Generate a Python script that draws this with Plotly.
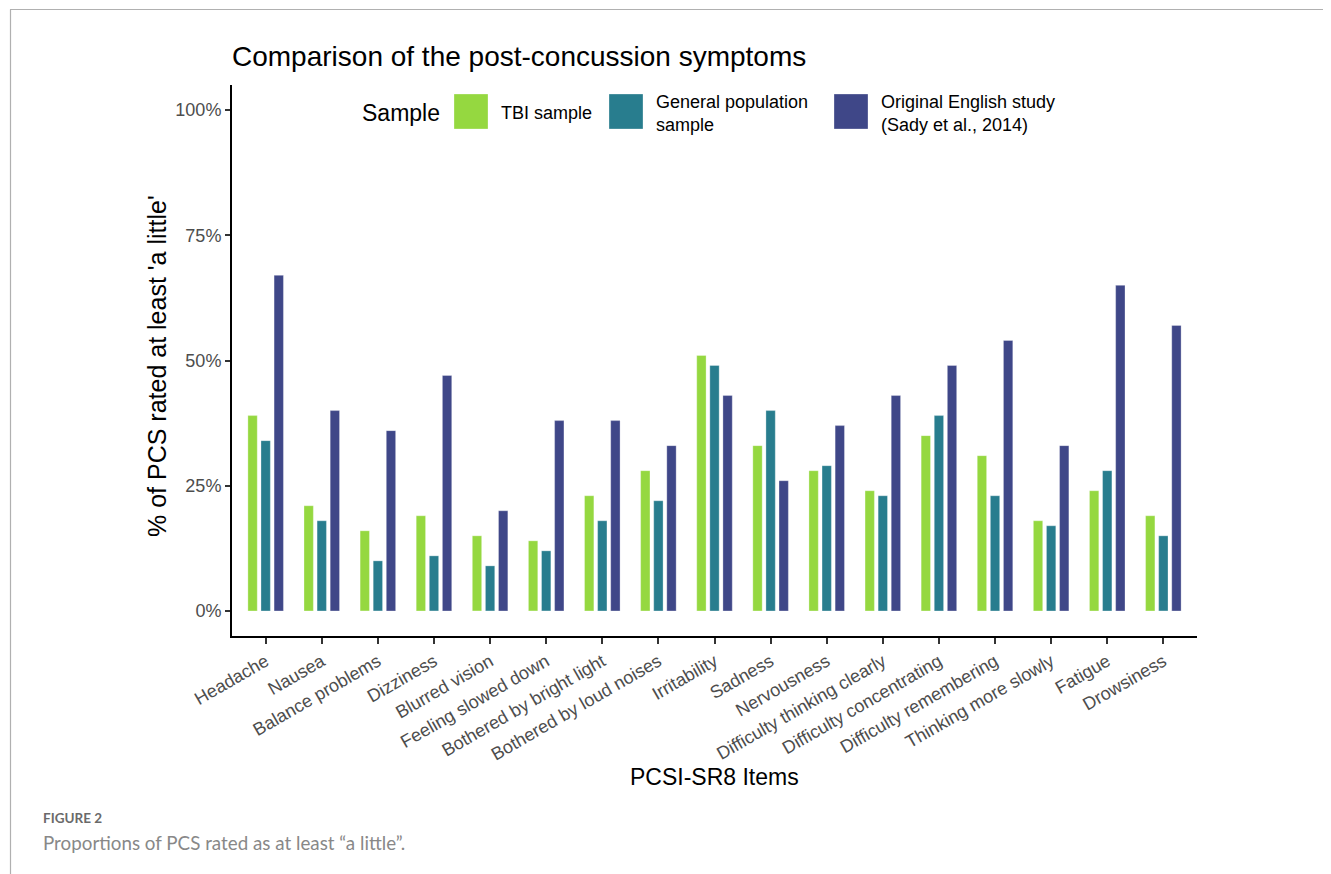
import plotly.graph_objects as go

categories = ["Headache", "Nausea", "Balance problems", "Dizziness", "Blurred vision",
              "Feeling slowed down", "Bothered by bright light", "Bothered by loud noises",
              "Irritability", "Sadness", "Nervousness", "Difficulty thinking clearly",
              "Difficulty concentrating", "Difficulty remembering", "Thinking more slowly",
              "Fatigue", "Drowsiness"]
tbi = [39, 21, 16, 19, 15, 14, 23, 28, 51, 33, 28, 24, 35, 31, 18, 24, 19]
genpop = [34, 18, 10, 11, 9, 12, 18, 22, 49, 40, 29, 23, 39, 23, 17, 28, 15]
english = [67, 40, 36, 47, 20, 38, 38, 33, 43, 26, 37, 43, 49, 54, 33, 65, 57]
series_names = ["TBI sample", "General population<br>sample", "Original English study<br>(Sady et al., 2014)"]
colors = ["#95D840", "#287D8E", "#3F4788"]
y_ticks = [0, 25, 50, 75, 100]
y_tick_labels = ["0%", "25%", "50%", "75%", "100%"]

# page is rendered with an 8px body margin: work in page pixel coords and shift
OFF = 8
PW, PH = 1331, 874
W, H = PW - OFF, PH - OFF
L, R, T, B = 232, 1197, 85, 636   # page coords of plot area
pw, ph = R - L, B - T

def px(x):
    return (x - L) / pw

def py(y):
    return (B - y) / ph

fig = go.Figure()
for name, vals, col in zip(series_names, [tbi, genpop, english], colors):
    fig.add_trace(go.Bar(x=categories, y=vals, name=name, marker_color=col,
                         marker_line_color="rgba(255,255,255,0.5)", marker_line_width=0.6,
                         showlegend=False))

font_main = "Liberation Sans, Arial, sans-serif"
fig.update_layout(
    width=W, height=H,
    margin=dict(l=L - OFF, r=(PW - R), t=T - OFF, b=(PH - B), autoexpand=False),
    paper_bgcolor="white", plot_bgcolor="white",
    barmode="group", bargap=0.3, bargroupgap=0.286,
    font=dict(family=font_main, color="#000"),
    xaxis=dict(range=[-0.6, 16.6], showline=True, linecolor="black", linewidth=2,
               ticks="outside", ticklen=6, tickwidth=1.5, tickcolor="#333",
               tickangle=-30, tickfont=dict(size=18, color="#4d4d4d", family=font_main),
               showgrid=False, zeroline=False),
    yaxis=dict(range=[-5, 105], showline=True, linecolor="black", linewidth=2,
               ticks="outside", ticklen=5, tickwidth=1.5, tickcolor="#333",
               tickvals=y_ticks, ticktext=y_tick_labels,
               tickfont=dict(size=18, color="#4d4d4d", family=font_main),
               showgrid=False, zeroline=False),
)

ann = []
shapes = []
# title
ann.append(dict(x=px(230), y=py(57), xref="paper", yref="paper", xanchor="left", yanchor="middle",
                text="Comparison of the post-concussion symptoms", showarrow=False,
                font=dict(size=28, color="#000", family=font_main)))
# axis titles
ann.append(dict(x=px(714), y=py(777), xref="paper", yref="paper", xanchor="center", yanchor="middle",
                text="PCSI-SR8 Items", showarrow=False, font=dict(size=23, color="#000", family=font_main)))
ann.append(dict(x=px(157), y=py(366), xref="paper", yref="paper", xanchor="center", yanchor="middle",
                text="% of PCS rated at least 'a little'", showarrow=False, textangle=-90,
                font=dict(size=25, color="#000", family=font_main)))
# legend (manual)
ann.append(dict(x=px(360), y=py(113), xref="paper", yref="paper", xanchor="left", yanchor="middle",
                text="Sample", showarrow=False, font=dict(size=23, color="#000", family=font_main)))
key_x = [454, 609, 834]
text_x = [499, 654, 879]
for kx, tx, col, name in zip(key_x, text_x, colors, series_names):
    shapes.append(dict(type="rect", xref="paper", yref="paper", x0=px(kx), x1=px(kx + 34),
                       y0=py(129), y1=py(94), fillcolor=col, line=dict(width=0.6, color="rgba(255,255,255,0.5)")))
    ann.append(dict(x=px(tx), y=py(113), xref="paper", yref="paper", xanchor="left", yanchor="middle",
                    text=name, showarrow=False, align="left",
                    font=dict(size=18, color="#000", family=font_main)))
# frame lines
shapes.append(dict(type="line", xref="paper", yref="paper", x0=px(10), x1=px(1340), y0=py(9.5), y1=py(9.5),
                   line=dict(color="#b0b0b0", width=1.2)))
shapes.append(dict(type="line", xref="paper", yref="paper", x0=px(10.5), x1=px(10.5), y0=py(9.5), y1=py(880),
                   line=dict(color="#b0b0b0", width=1.2)))
# caption
ann.append(dict(x=px(41), y=py(818), xref="paper", yref="paper", xanchor="left", yanchor="middle",
                text="<b>FIGURE 2</b>", showarrow=False, font=dict(size=13.5, color="#6a6a6a", family="Lato, sans-serif")))
ann.append(dict(x=px(41), y=py(842), xref="paper", yref="paper", xanchor="left", yanchor="middle",
                text="Proportions of PCS rated as at least \u201ca little\u201d.", showarrow=False,
                font=dict(size=18.8, color="#888", family="Lato, sans-serif")))
fig.update_layout(annotations=ann, shapes=shapes)

fig.write_html("out.html")
